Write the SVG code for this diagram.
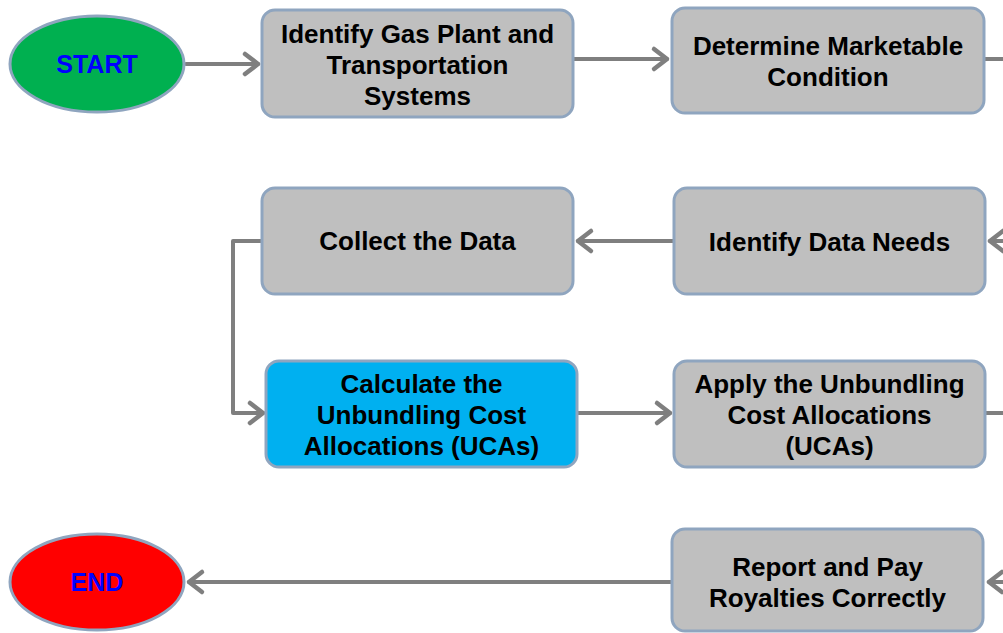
<svg xmlns="http://www.w3.org/2000/svg" width="1003" height="633" viewBox="0 0 1003 633">
<style>
.box{fill:#bfbfbf;stroke:#8fa5bf;stroke-width:3}
.blue{fill:#00b0f0;stroke:#8fa5bf;stroke-width:3}
.t{font-family:"Liberation Sans",Arial,sans-serif;font-weight:bold;font-size:26px;fill:#000;text-anchor:middle}
.tb{font-family:"Liberation Sans",Arial,sans-serif;font-weight:bold;font-size:25px;fill:#0000ff;text-anchor:middle}
.c{fill:none;stroke:#7f7f7f;stroke-width:4;stroke-linejoin:round;stroke-linecap:round}
.h{fill:none;stroke:#7f7f7f;stroke-width:4.5;stroke-linejoin:round;stroke-linecap:round}
</style>
<rect width="1003" height="633" fill="#fff"/>
<g id="connectors">
<path class="c" d="M186,64 H258"/><path class="h" d="M245,54 L258,64 L245,74"/>
<path class="c" d="M573,59 H667"/><path class="h" d="M654,49 L667,59 L654,69"/>
<path class="c" d="M985,59 H1005"/>
<path class="c" d="M1005,241 H990"/><path class="h" d="M1003,231 L990,241 L1003,251"/>
<path class="c" d="M674,241 H578"/><path class="h" d="M591,231 L578,241 L591,251"/>
<path class="c" d="M262,241 H233 V413 H263"/><path class="h" d="M250,403 L263,413 L250,423"/>
<path class="c" d="M578,413 H670"/><path class="h" d="M657,403 L670,413 L657,423"/>
<path class="c" d="M986,413 H1005"/>
<path class="c" d="M1005,582 H989"/><path class="h" d="M1002,572 L989,582 L1002,592"/>
<path class="c" d="M672,582 H189"/><path class="h" d="M202,572 L189,582 L202,592"/>
</g>
<g id="start">
<ellipse cx="97" cy="64" rx="87" ry="48" fill="#00b050" stroke="#8fa5bf" stroke-width="3"/>
<text class="tb" x="97" y="73">START</text>
</g>
<g id="identify-gas">
<rect class="box" x="262" y="10" width="311" height="107" rx="13"/>
<text class="t" x="417.5" y="43">Identify Gas Plant and</text>
<text class="t" x="417.5" y="74">Transportation</text>
<text class="t" x="417.5" y="105">Systems</text>
</g>
<g id="determine">
<rect class="box" x="672" y="8" width="312" height="105" rx="13"/>
<text class="t" x="828" y="55">Determine Marketable</text>
<text class="t" x="828" y="86">Condition</text>
</g>
<g id="identify-data">
<rect class="box" x="674" y="188" width="311" height="106" rx="13"/>
<text class="t" x="829.5" y="251">Identify Data Needs</text>
</g>
<g id="collect">
<rect class="box" x="262" y="188" width="311" height="106" rx="13"/>
<text class="t" x="417.5" y="250">Collect the Data</text>
</g>
<g id="calculate">
<rect class="blue" x="266" y="361" width="311" height="106" rx="13"/>
<text class="t" x="421.5" y="393">Calculate the</text>
<text class="t" x="421.5" y="424">Unbundling Cost</text>
<text class="t" x="421.5" y="455">Allocations (UCAs)</text>
</g>
<g id="apply">
<rect class="box" x="674" y="361" width="311" height="106" rx="13"/>
<text class="t" x="829.5" y="393">Apply the Unbundling</text>
<text class="t" x="829.5" y="424">Cost Allocations</text>
<text class="t" x="829.5" y="455">(UCAs)</text>
</g>
<g id="report">
<rect class="box" x="672" y="529" width="311" height="102" rx="13"/>
<text class="t" x="827.5" y="576">Report and Pay</text>
<text class="t" x="827.5" y="607">Royalties Correctly</text>
</g>
<g id="end">
<ellipse cx="97" cy="582" rx="87" ry="48" fill="#ff0000" stroke="#8fa5bf" stroke-width="3"/>
<text class="tb" x="97" y="591">END</text>
</g>
</svg>
